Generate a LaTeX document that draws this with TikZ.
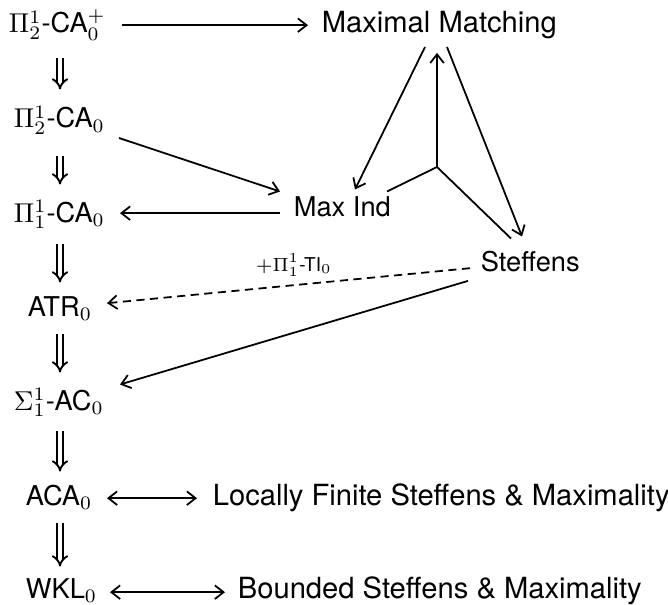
\documentclass[tikz,border=0pt]{standalone}
\usepackage[no-math]{fontspec}
\setmainfont{TeX Gyre Heros}
\usetikzlibrary{arrows.meta,calc}
\begin{document}
\begin{tikzpicture}[x=0.367pt,y=-0.367pt,line width=0.65pt,
  lbl/.style={anchor=base west, inner sep=0pt, text height=7.2pt, text depth=0pt,
    font=\fontsize{10}{12}\selectfont},
  widelbl/.style={lbl, font=\fontsize{10.7}{12}\selectfont},
  arr/.style={-{Straight Barb[length=3.2pt,width=5pt]}},
  both/.style={{Straight Barb[length=3.2pt,width=5pt]}-{Straight Barb[length=3.2pt,width=5pt]}},
  imp/.style={line width=0.7pt, double, double distance=1.3pt, -{Implies[scale=1.15]}},
  dasharr/.style={arr, dash pattern=on 3pt off 2pt}]
\useasboundingbox (0,0) rectangle (668,604);

% systems of second order arithmetic
\node[lbl] (pcaplus) at (8,33)  {$\Pi^1_2$-CA$_0^+$};
\node[lbl] (pca2)    at (13,128) {$\Pi^1_2$-CA$_0$};
\node[lbl] (pca1)    at (13,222) {$\Pi^1_1$-CA$_0$};
\node[lbl] (atr)     at (27,316) {ATR$_0$};
\node[lbl] (sigma)   at (13,410) {$\Sigma^1_1$-AC$_0$};
\node[lbl] (aca)     at (25,505) {ACA$_0$};
\node[lbl] (wkl)     at (25,598) {WKL$_0$};

% combinatorial principles
\node[widelbl] (mm)   at (321,33)  {Maximal Matching};
\node[lbl] (maxind)   at (293,217) {Max Ind};
\node[lbl] (steffens) at (480,271) {Steffens};
\node[widelbl] (lfs)  at (212,505) {Locally Finite Steffens \& Maximality};
\node[widelbl] (bsm)  at (237,598) {Bounded Steffens \& Maximality};

\coordinate (col) at (60,0);
\coordinate (j) at (437,167);

% implications down the left column
\draw[imp] ($(col |- pcaplus.south)+(0,24)$) -- ($(col |- pca2.north)+(0,-18)$);
\draw[imp] ($(col |- pca2.south)+(0,27)$)    -- ($(col |- pca1.north)+(0,-17)$);
\draw[imp] ($(col |- pca1.south)+(0,21)$)    -- ($(col |- atr.north)+(0,-13)$);
\draw[imp] ($(col |- atr.south)+(0,17)$)     -- ($(col |- sigma.north)+(0,-17)$);
\draw[imp] ($(col |- sigma.south)+(0,20)$)   -- ($(col |- aca.north)+(0,-13)$);
\draw[imp] ($(col |- aca.south)+(0,17)$)     -- ($(col |- wkl.north)+(0,-11)$);

% reductions
\draw[arr] ($(pcaplus.west)+(114,2)$) -- ($(mm.west)+(-13,2)$);
\draw[arr] ($(mm.base west)+(104,14)$) -- ($(maxind.north west)+(62,-7)$);
\draw[arr] ($(mm.base west)+(126,14)$) -- ($(steffens.north west)+(42,-14)$);
\draw ($(maxind.north west)+(94,-5)$) -- (j);
\draw (j) -- ($(steffens.north west)+(31,-12)$);
\draw[arr] (j) -- ($(j |- mm.south)+(0,19)$);
\draw[arr] ($(pca2.base west)+(106,10)$) -- ($(maxind.north west)+(-13,-5)$);
\draw[arr] ($(maxind.west)+(-13,6)$) -- ($(pca1.west |- maxind.west)+(107,6)$);
\draw[dasharr] ($(steffens.west)+(-10,7)$) -- ($(atr.west)+(80,-3)$);
\draw[arr] ($(steffens.south west)+(-12,9)$) -- ($(sigma.north west)+(107,-5)$);
\draw[both] ($(aca.west)+(82,3)$) -- ($(lfs.west)+(-15,3)$);
\draw[both] ($(wkl.west)+(85,4)$) -- ($(bsm.west)+(-12,4)$);

\node[anchor=base west, inner sep=0pt, font=\fontsize{7}{8}\selectfont] (ti) at (255,271) {$+\Pi^1_1$-TI$_0$};
\end{tikzpicture}
\end{document}
